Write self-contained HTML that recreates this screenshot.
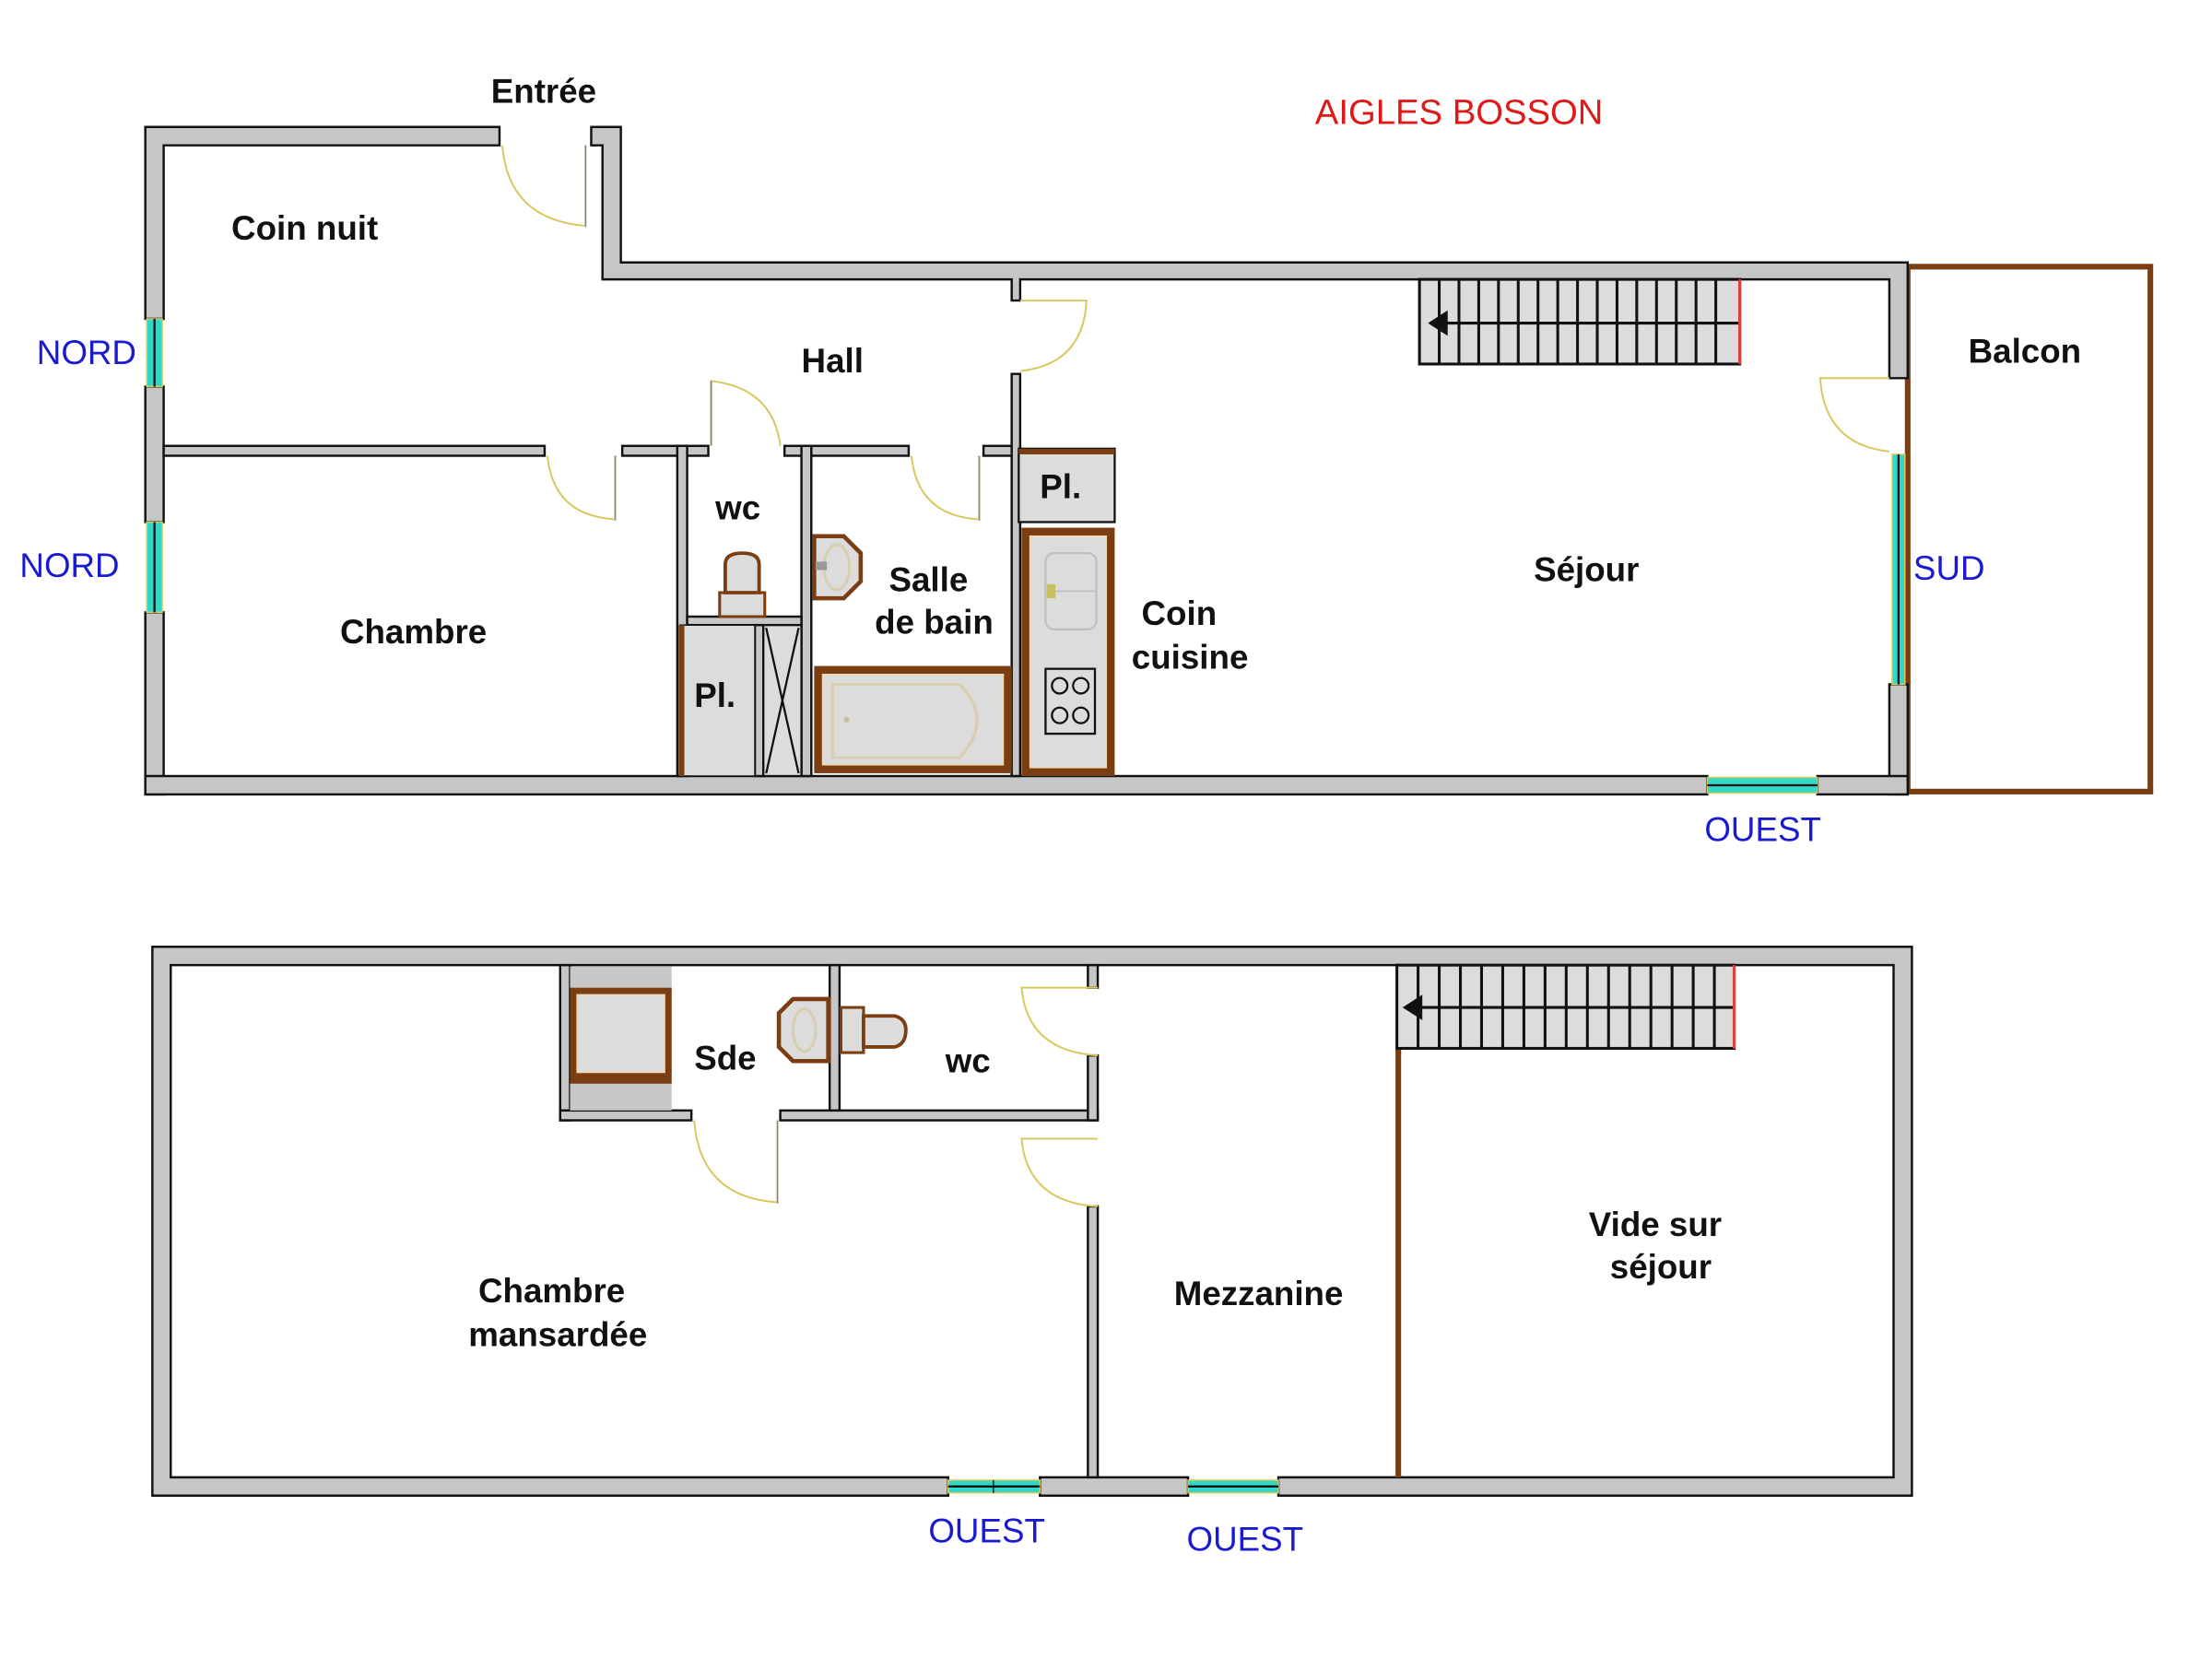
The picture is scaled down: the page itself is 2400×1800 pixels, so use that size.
<!DOCTYPE html>
<html><head><meta charset="utf-8"><style>
html,body{margin:0;padding:0;background:#fff;}
svg{display:block;}
.w{fill:#c6c6c6;stroke:#111;stroke-width:1.6;}
.d{fill:none;stroke:#d8c860;stroke-width:1.3;}
.dl{fill:none;stroke:#8a8a70;stroke-width:1.2;}
.t{font-family:"Liberation Sans",sans-serif;font-weight:bold;font-size:24px;fill:#111;}
.b{font-family:"Liberation Sans",sans-serif;font-size:24px;fill:#1a1ad0;}
.br{fill:none;stroke:#7a3e12;stroke-width:4;}
.win{fill:#30d8c8;stroke:#d8c860;stroke-width:1;}
.st line{stroke:#111;stroke-width:2;}
</style></head><body>
<svg width="2400" height="1800" viewBox="0 0 1552 1164" xmlns="http://www.w3.org/2000/svg">
<rect width="1552" height="1164" fill="#fff"/>
<g transform="scale(0.99)">
<!-- ================= TOP FLOOR ================= -->
<rect x="1352" y="189" width="172" height="372" class="br"/>

<path class="w" d="M103 90 H354 V103 H116 V226 H103 Z"/>
<rect class="w" x="103" y="274" width="13" height="96"/>
<rect class="w" x="103" y="434" width="13" height="129"/>
<rect class="win" x="104" y="226" width="11" height="48"/><line x1="109.5" y1="226" x2="109.5" y2="274" stroke="#111" stroke-width="1.5"/>
<rect class="win" x="104" y="370" width="11" height="64"/><line x1="109.5" y1="370" x2="109.5" y2="434" stroke="#111" stroke-width="1.5"/>

<path class="w" d="M419 90 H440 V186 H1352 V268 H1339 V198 H723 V213 H717 V198 H427 V103 H419 Z"/>
<rect class="w" x="1339" y="485" width="13" height="78"/>
<rect class="win" x="1341" y="322" width="9" height="163"/><line x1="1345.5" y1="322" x2="1345.5" y2="485" stroke="#111" stroke-width="1.5"/>

<rect class="w" x="103" y="550" width="1107" height="13"/>
<rect class="w" x="1288" y="550" width="64" height="13"/>
<rect class="win" x="1210" y="551" width="78" height="11"/><line x1="1210" y1="556.5" x2="1288" y2="556.5" stroke="#111" stroke-width="1.5"/>

<rect class="w" x="116" y="316" width="270" height="7"/>
<rect class="w" x="441" y="316" width="61" height="7"/>
<rect class="w" x="556" y="316" width="88" height="7"/>
<rect class="w" x="697" y="316" width="26" height="7"/>
<rect class="w" x="717" y="265" width="6" height="285"/>
<rect class="w" x="480" y="316" width="7" height="234"/>
<rect class="w" x="568" y="316" width="7" height="234"/>
<rect class="w" x="487" y="437" width="81" height="6"/>
<rect class="w" x="535" y="443" width="6" height="107"/>

<rect x="482" y="443" width="53" height="107" fill="#dcdcdc" stroke="#111" stroke-width="1"/>
<line x1="483" y1="443" x2="483" y2="550" stroke="#7a3e12" stroke-width="4"/>
<rect x="541" y="443" width="27" height="107" fill="#dcdcdc" stroke="#111" stroke-width="1.5"/>
<path d="M543 445 L566 548 M566 445 L543 548" stroke="#111" stroke-width="1.5" fill="none"/>

<rect x="577" y="472" width="140" height="76" fill="#7a3e12"/>
<rect x="583" y="478" width="128" height="64" fill="#dcdcdc" stroke="#f0d8b0" stroke-width="1"/>
<path d="M590 485 H680 Q705 510 680 537 H590 Z" fill="none" stroke="#d8ceb0" stroke-width="2"/>
<circle cx="600" cy="510" r="2" fill="#c8c0a0"/>

<rect x="722" y="318" width="68" height="52" fill="#dcdcdc" stroke="#111" stroke-width="1.5"/>
<line x1="722" y1="320" x2="790" y2="320" stroke="#7a3e12" stroke-width="4"/>
<rect x="724" y="374" width="66" height="176" fill="#7a3e12"/>
<rect x="730" y="380" width="54" height="164" fill="#dcdcdc" stroke="#f0d8b0" stroke-width="1"/>
<rect x="741" y="392" width="36" height="54" rx="6" fill="none" stroke="#c0c0c0" stroke-width="1.5"/>
<line x1="741" y1="419" x2="777" y2="419" stroke="#c0c0c0" stroke-width="1.2"/>
<rect x="742" y="414" width="6" height="10" fill="#c8c060"/>
<rect x="741" y="474" width="35" height="46" fill="#dcdcdc" stroke="#111" stroke-width="1.5"/>
<circle cx="751" cy="486" r="5.5" fill="none" stroke="#111" stroke-width="1.5"/>
<circle cx="766" cy="486" r="5.5" fill="none" stroke="#111" stroke-width="1.5"/>
<circle cx="751" cy="507" r="5.5" fill="none" stroke="#111" stroke-width="1.5"/>
<circle cx="766" cy="507" r="5.5" fill="none" stroke="#111" stroke-width="1.5"/>

<rect x="510" y="420" width="32" height="17" fill="#dcdcdc" stroke="#7a3e12" stroke-width="2"/>
<path d="M514 420 V400 Q514 392 526 392 Q538 392 538 400 V420 Z" fill="#dcdcdc" stroke="#7a3e12" stroke-width="2.5"/>
<path d="M577 380 H598 L610 392 V412 L598 424 H577 Z" fill="#dcdcdc" stroke="#7a3e12" stroke-width="3"/>
<ellipse cx="593" cy="402" rx="9" ry="16" fill="none" stroke="#d8ceb0" stroke-width="2"/>
<rect x="578" y="398" width="8" height="6" fill="#999"/>

<g class="st">
<rect x="1006" y="198" width="227" height="60" fill="#dcdcdc" stroke="#111" stroke-width="2"/>
<line x1="1020" y1="229" x2="1232" y2="229"/>
</g>
<g stroke="#111" stroke-width="2">
<line x1="1020" y1="198" x2="1020" y2="258"/><line x1="1034" y1="198" x2="1034" y2="258"/><line x1="1048" y1="198" x2="1048" y2="258"/><line x1="1062" y1="198" x2="1062" y2="258"/><line x1="1076" y1="198" x2="1076" y2="258"/><line x1="1090" y1="198" x2="1090" y2="258"/><line x1="1104" y1="198" x2="1104" y2="258"/><line x1="1118" y1="198" x2="1118" y2="258"/><line x1="1132" y1="198" x2="1132" y2="258"/><line x1="1146" y1="198" x2="1146" y2="258"/><line x1="1160" y1="198" x2="1160" y2="258"/><line x1="1174" y1="198" x2="1174" y2="258"/><line x1="1188" y1="198" x2="1188" y2="258"/><line x1="1202" y1="198" x2="1202" y2="258"/><line x1="1216" y1="198" x2="1216" y2="258"/>
</g>
<line x1="1233" y1="198" x2="1233" y2="258" stroke="#e04040" stroke-width="2"/>
<path d="M1012 229 L1026 220 V238 Z" fill="#111"/>

<path class="d" d="M356 103 Q360 155 414 160"/><line class="dl" x1="415" y1="103" x2="415" y2="161"/>
<path class="d" d="M388 323 Q392 365 435 368"/><line class="dl" x1="436" y1="323" x2="436" y2="369"/>
<path class="d" d="M504 316 V270 Q548 275 553 316"/><line class="dl" x1="504" y1="270" x2="504" y2="316"/>
<path class="d" d="M646 323 Q650 365 693 368"/><line class="dl" x1="694" y1="323" x2="694" y2="369"/>
<path class="d" d="M723 213 H770 Q768 258 723 263"/>
<path class="d" d="M1339 268 H1290 Q1293 315 1339 320"/>

<text class="t" x="348" y="73">Entrée</text>
<text x="932" y="88" font-family="Liberation Sans,sans-serif" font-size="25" fill="#e01818">AIGLES BOSSON</text>
<text class="t" x="164" y="170">Coin nuit</text>
<text class="t" x="568" y="264">Hall</text>
<text class="t" x="1395" y="257">Balcon</text>
<text class="t" x="507" y="368" font-size="22">wc</text>
<text class="t" x="737" y="353" font-size="26">Pl.</text>
<text class="t" x="492" y="501" font-size="26">Pl.</text>
<text class="t" x="630" y="419">Salle</text>
<text class="t" x="620" y="449">de bain</text>
<text class="t" x="809" y="443">Coin</text>
<text class="t" x="802" y="474">cuisine</text>
<text class="t" x="1087" y="412">Séjour</text>
<text class="t" x="241" y="456">Chambre</text>
<text class="b" x="26" y="258">NORD</text>
<text class="b" x="14" y="409">NORD</text>
<text class="b" x="1356" y="411">SUD</text>
<text class="b" x="1208" y="596">OUEST</text>

<!-- ================= BOTTOM FLOOR ================= -->
<path class="w" fill-rule="evenodd" d="M108 671 H1355 V1060 H906 V1047 H1342 V684 H121 V1047 H672 V1060 H108 Z"/>
<rect class="w" x="737" y="1047" width="105" height="13"/>
<rect class="win" x="672" y="1049" width="65" height="9"/><line x1="672" y1="1053.5" x2="737" y2="1053.5" stroke="#111" stroke-width="1.5"/><line x1="704" y1="1049" x2="704" y2="1058" stroke="#111" stroke-width="1"/>
<rect class="win" x="842" y="1049" width="64" height="9"/><line x1="842" y1="1053.5" x2="906" y2="1053.5" stroke="#111" stroke-width="1.5"/>

<rect class="w" x="397" y="684" width="7" height="110"/>
<rect class="w" x="397" y="787" width="93" height="7"/>
<rect class="w" x="553" y="787" width="225" height="7"/>
<rect class="w" x="588" y="684" width="7" height="103"/>
<rect class="w" x="771" y="684" width="7" height="16"/>
<rect class="w" x="771" y="748" width="7" height="46"/>
<rect class="w" x="771" y="855" width="7" height="192"/>
<rect x="404" y="685" width="72" height="102" fill="#c8c8c8"/>
<rect x="404" y="700" width="72" height="68" fill="#7a3e12"/>
<rect x="409" y="705" width="62" height="55" fill="#dcdcdc" stroke="#f0d8b0" stroke-width="1"/>
<path d="M587 708 H562 L552 718 V742 L562 752 H587 Z" fill="#dcdcdc" stroke="#7a3e12" stroke-width="3"/>
<ellipse cx="570" cy="730" rx="8" ry="15" fill="none" stroke="#d8ceb0" stroke-width="2"/>
<rect x="596" y="714" width="16" height="32" fill="#dcdcdc" stroke="#7a3e12" stroke-width="2"/>
<path d="M612 720 H634 Q642 722 642 730 Q642 740 634 742 H612 Z" fill="#dcdcdc" stroke="#7a3e12" stroke-width="2.5"/>

<line x1="991" y1="743" x2="991" y2="1047" stroke="#7a3e12" stroke-width="4"/>
<rect x="990" y="684" width="239" height="59" fill="#dcdcdc" stroke="#111" stroke-width="2"/>
<line x1="1004" y1="714" x2="1229" y2="714" stroke="#111" stroke-width="2"/>
<g stroke="#111" stroke-width="2">
<line x1="1005" y1="684" x2="1005" y2="743"/><line x1="1020" y1="684" x2="1020" y2="743"/><line x1="1035" y1="684" x2="1035" y2="743"/><line x1="1050" y1="684" x2="1050" y2="743"/><line x1="1065" y1="684" x2="1065" y2="743"/><line x1="1080" y1="684" x2="1080" y2="743"/><line x1="1095" y1="684" x2="1095" y2="743"/><line x1="1110" y1="684" x2="1110" y2="743"/><line x1="1125" y1="684" x2="1125" y2="743"/><line x1="1140" y1="684" x2="1140" y2="743"/><line x1="1155" y1="684" x2="1155" y2="743"/><line x1="1170" y1="684" x2="1170" y2="743"/><line x1="1185" y1="684" x2="1185" y2="743"/><line x1="1200" y1="684" x2="1200" y2="743"/><line x1="1215" y1="684" x2="1215" y2="743"/>
</g>
<line x1="1229" y1="684" x2="1229" y2="743" stroke="#e04040" stroke-width="2"/>
<path d="M994 714 L1008 705 V723 Z" fill="#111"/>

<path class="d" d="M492 794 Q496 848 550 852"/><line class="dl" x1="551" y1="794" x2="551" y2="853"/>
<path class="d" d="M778 700 H724 Q728 745 778 748"/>
<path class="d" d="M778 807 H724 Q728 852 778 855"/>

<text class="t" x="492" y="758">Sde</text>
<text class="t" x="670" y="760" font-size="22">wc</text>
<text class="t" x="339" y="923">Chambre</text>
<text class="t" x="332" y="954">mansardée</text>
<text class="t" x="832" y="925">Mezzanine</text>
<text class="t" x="1126" y="876">Vide sur</text>
<text class="t" x="1141" y="906">séjour</text>
<text class="b" x="658" y="1093">OUEST</text>
<text class="b" x="841" y="1099">OUEST</text>
</g>
</svg>
</body></html>
